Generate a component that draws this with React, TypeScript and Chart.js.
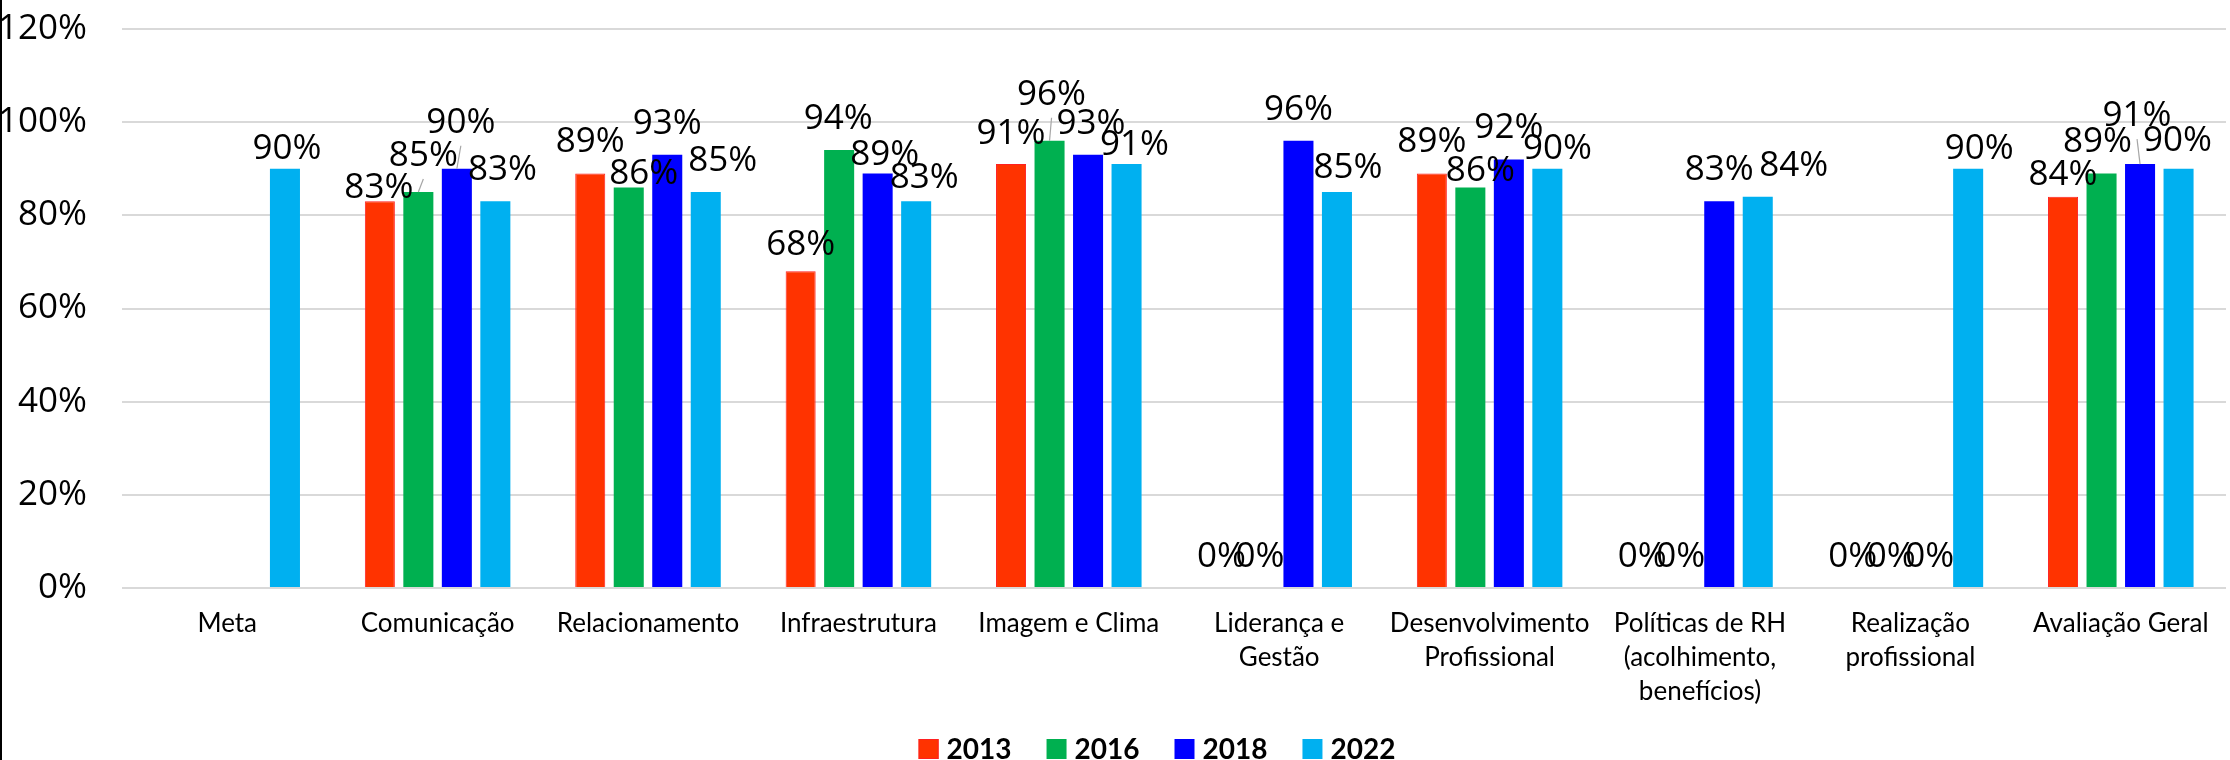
import React, { useEffect, useRef } from 'react';
import { Chart, registerables } from 'chart.js';

Chart.register(...registerables);

// ---------- data ----------
const categories: (string | string[])[] = [
  'Meta',
  'Comunicação',
  'Relacionamento',
  'Infraestrutura',
  'Imagem e Clima',
  ['Liderança e', 'Gestão'],
  ['Desenvolvimento', 'Profissional'],
  ['Políticas de RH', '(acolhimento,', 'benefícios)'],
  ['Realização', 'profissional'],
  'Avaliação Geral',
];

const seriesLabels = ['2013', '2016', '2018', '2022'];

const values2013: (number | null)[] = [null, 83, 89, 68, 91, 0, 89, 0, 0, 84];
const values2016: (number | null)[] = [null, 85, 86, 94, 96, 0, 86, 0, 0, 89];
const values2018: (number | null)[] = [null, 90, 93, 89, 93, 96, 92, 83, 0, 91];
const values2022: (number | null)[] = [90, 83, 85, 83, 91, 85, 90, 84, 90, 90];

const yTickValues = [0, 20, 40, 60, 80, 100, 120];

// ---------- styling ----------
const seriesColors = ['#FF3300', '#00B050', '#0000FF', '#00B0F0'];
const seriesBorders = ['#FF2020', '#00B050', '#3030FF', '#00B0F0'];

// manual label nudges [dx, dy] (pixels) per series, per category, as in the source
const labelNudges2013: [number, number][] = [[0, 0], [-1, 18], [0, 0], [0, 5], [0, 1], [0, 0], [0, 0], [0, 0], [0, 0], [0, 9]];
const labelNudges2016: [number, number][] = [[0, 0], [5, -5], [15, 18], [-1, 0], [2, -15], [0, 0], [10, 15], [0, 0], [0, 0], [-4, 0]];
const labelNudges2018: [number, number][] = [[0, 0], [4, -15], [0, 0], [7, 13], [3, 0], [0, 0], [0, 0], [0, 0], [0, 0], [-3, -17]];
const labelNudges2022: [number, number][] = [[2, 11], [7, 0], [17, 0], [8, 8], [8, 12], [11, 7], [10, 11], [36, 0], [11, 11], [-1, 3]];
const labelNudges = [labelNudges2013, labelNudges2016, labelNudges2018, labelNudges2022];

const LABEL_FONT = '35px "Open Sans"';
const LABEL_GAP = 21;

const backgroundPlugin = {
  id: 'bgPlugin',
  beforeDraw(chart: any) {
    const ctx = chart.ctx;
    ctx.save();
    ctx.fillStyle = '#ffffff';
    ctx.fillRect(0, 0, chart.width, chart.height);
    ctx.fillStyle = '#000000';
    ctx.fillRect(0, 0, 2, chart.height);
    ctx.restore();
  },
};

const dataLabelPlugin = {
  id: 'dataLabelPlugin',
  afterDatasetsDraw(chart: any) {
    const ctx = chart.ctx;
    ctx.save();
    ctx.font = LABEL_FONT;
    ctx.textAlign = 'center';
    ctx.textBaseline = 'alphabetic';
    chart.data.datasets.forEach((ds: any, di: number) => {
      const meta = chart.getDatasetMeta(di);
      meta.data.forEach((bar: any, i: number) => {
        const v = ds.data[i];
        if (v === null || v === undefined) return;
        const [dx, dy] = labelNudges[di][i];
        const x = bar.x + dx;
        const y = bar.y - LABEL_GAP + dy;
        if (dy <= -5) {
          ctx.strokeStyle = '#a6a6a6';
          ctx.lineWidth = 1.2;
          ctx.beginPath();
          ctx.moveTo(bar.x, bar.y);
          ctx.lineTo(x, y + 13);
          ctx.stroke();
        }
        ctx.fillStyle = '#000000';
        ctx.fillText(v + '%', x, y);
      });
    });
    ctx.restore();
  },
};

const legendPlugin = {
  id: 'customLegend',
  afterDraw(chart: any) {
    const ctx = chart.ctx;
    const box = 20;
    const gap = 8;
    const spacing = 35;
    ctx.save();
    ctx.font = 'bold 28px Lato';
    ctx.textBaseline = 'middle';
    ctx.textAlign = 'left';
    const widths = chart.data.datasets.map((d: any) => ctx.measureText(d.label).width);
    const total = widths.reduce((a: number, w: number) => a + box + gap + w, 0) + spacing * (widths.length - 1);
    const area = chart.chartArea;
    const cx = (area.left + area.right) / 2 - 17;
    let x = cx - total / 2;
    const cy = 749;
    chart.data.datasets.forEach((d: any, i: number) => {
      ctx.fillStyle = d.backgroundColor;
      ctx.fillRect(x, cy - box / 2, box, box);
      if (i === 0) {
        ctx.strokeStyle = d.borderColor;
        ctx.lineWidth = 1;
        ctx.strokeRect(x + 0.5, cy - box / 2 + 0.5, box - 1, box - 1);
      }
      ctx.fillStyle = '#000000';
      ctx.fillText(d.label, x + box + gap, cy + 1);
      x += box + gap + widths[i] + spacing;
    });
    ctx.restore();
  },
};

export default function App() {
  const canvasRef = useRef<HTMLCanvasElement | null>(null);

  useEffect(() => {
    const canvas = canvasRef.current;
    if (!canvas) return;
    const seriesValues = [values2013, values2016, values2018, values2022];
    const chart = new Chart(canvas, {
      type: 'bar',
      data: {
        labels: categories as any,
        datasets: seriesLabels.map((label, i) => ({
          label,
          data: seriesValues[i] as any,
          backgroundColor: seriesColors[i],
          borderColor: seriesBorders[i],
          borderWidth: i === 0 ? 1 : 0,
          categoryPercentage: 0.732,
          barPercentage: 0.78,
        })),
      },
      options: {
        responsive: false,
        animation: false,
        devicePixelRatio: 1,
        layout: { autoPadding: false, padding: { top: 29, right: 4, bottom: 0, left: 0 } },
        plugins: {
          legend: { display: false },
          tooltip: { enabled: false },
          title: { display: false },
        },
        scales: {
          x: {
            grid: { display: false, drawTicks: false },
            border: { display: false },
            ticks: {
              color: '#000000',
              font: { family: 'Lato', size: 26, lineHeight: 1.3 },
              padding: 19,
              maxRotation: 0,
              autoSkip: false,
            },
            afterFit(scale: any) {
              scale.height = 172;
              scale.paddingLeft = 0;
              scale.paddingRight = 0;
            },
          },
          y: {
            min: 0,
            max: 120,
            grid: { color: '#d9d9d9', lineWidth: 2, drawTicks: false },
            border: { display: false },
            afterBuildTicks(scale: any) {
              scale.ticks = yTickValues.map((v) => ({ value: v }));
            },
            ticks: {
              color: '#000000',
              font: { family: 'Open Sans', size: 35 },
              padding: 35,
              callback: (v: any) => v + '%',
            },
            afterFit(scale: any) {
              scale.width = 122;
              scale.paddingTop = 0;
              scale.paddingBottom = 0;
            },
          },
        },
      },
      plugins: [backgroundPlugin, dataLabelPlugin, legendPlugin],
    });
    return () => chart.destroy();
  }, []);

  return (
    <div style={{ position: 'absolute', left: 0, top: 0, width: 2230, height: 760, background: '#fff' }}>
      <canvas ref={canvasRef} width={2230} height={760} style={{ display: 'block' }} />
    </div>
  );
}
